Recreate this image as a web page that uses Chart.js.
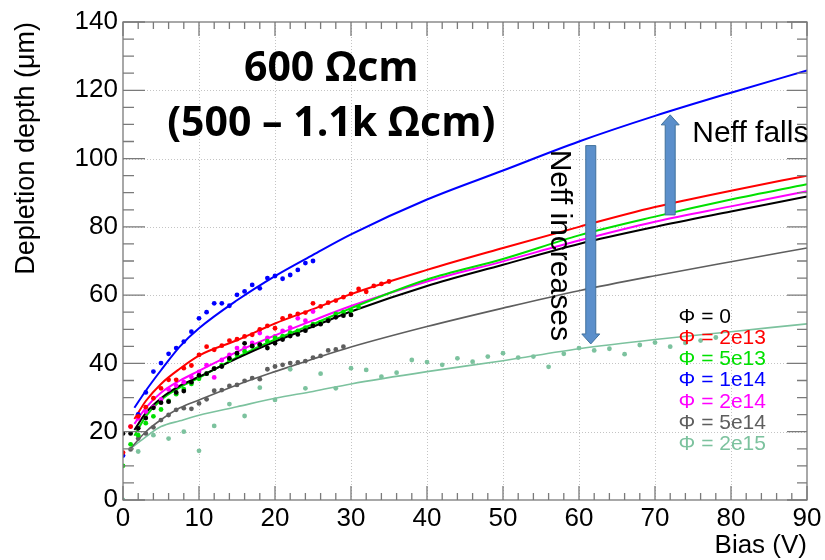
<!DOCTYPE html>
<html>
<head>
<meta charset="utf-8">
<script src="https://cdn.jsdelivr.net/npm/chart.js@4/dist/chart.umd.min.js"></script>
<style>
  html, body { margin: 0; padding: 0; background: #fff; }
  canvas { display: block; }
</style>
</head>
<body>
<canvas id="dCanvas" width="825" height="560"></canvas>
<script>
const FONT = "'Liberation Sans', Arial, sans-serif";

// fluence labels and colours, in legend order
const fluences = [ "0", "2e13", "5e13", "1e14", "2e14", "5e14", "2e15" ];
const colours = [ "#000000", "#ff0000", "#00e000", "#0000ff", "#ff00ff", "#5e5e5e", "#7cc29e" ];

// measured depletion depth (um) vs bias (V)
const phi0V = [ 0,1,2,3,4,5,6,7,8,9,10,11,12,13,14,15,16,17,18,19,20,21,22,23,24,25,26,27,28,29,30 ];
const phi0D = [ 19.5,19.5,21,24,27,28.5,28.8,31.5,31.9,34.5,36.5,37,38.5,39.1,41.5,43,45.9,45.1,45.5,44.5,45.9,47,48,48.5,49.6,51,51.5,52.5,53.5,54,54.2 ];

const phi2e13V = [ 0,1,2,3,4,5,6,7,8,9,10,11,12,13,14,15,16,17,18,19,20,21,22,23,24,25,26,27,28,29,30,31,32,33,34,35 ];
const phi2e13D = [ 13.9,21.5,24.5,27.2,29.8,32.7,35.2,35.2,38.6,39.4,42.5,44.9,44,45.2,46.7,47.1,47.9,48.4,50,51,50.3,53.2,53.9,54.5,54.9,57.6,56.7,57.8,58.4,59.4,60.4,61.8,61,62.7,63.3,64 ];

const phi5e13V = [ 0,1,2,3,4,5,6,7,8,9,10,11,12,13,14,15,16,17,18,19,20,21,22,23,24,25,26,27,28,29,30,31 ];
const phi5e13D = [ 10,16.3,19,22.5,24.5,26.5,29,31,32.5,34,35.5,37,38.5,39.5,41,42.5,43.5,45,45.5,46.5,47.5,48,49,49.5,50.5,51.5,52,53,54.5,55,55.5,56.5 ];

const phi1e14V = [ 0,2,3,4,5,6,7,8,9,10,11,12,13,14,15,16,17,18,19,20,21,22,23,24,25 ];
const phi1e14D = [ 13,25.1,31.5,37.6,40.1,42.8,44.5,46.4,49.3,53.2,55,57.6,57.6,56.9,60.1,61.1,63,62,65,65.6,64.8,65.9,67.4,69.4,70 ];

const phi2e14V = [ 1,2,3,4,5,6,7,8,9,10,11,12,13,14,15,16,17,18,19,20,21,22,23,24,25 ];
const phi2e14D = [ 21.5,23.9,25.9,27.3,29.5,32.4,33.5,34.5,36,37.5,39.5,35.9,41,42.5,44.5,44.5,46,48.9,47.5,47.9,49.5,50.5,53.2,52.5,55.2 ];

const phi5e14V = [ 1,2,3,4,5,6,7,8,9,10,11,12,13,14,15,16,17,18,19,20,21,22,23,24,25,26,27,28,29 ];
const phi5e14D = [ 14.8,18,19.5,21.3,23.4,24.9,26.4,26.9,26.7,28.3,29.5,32,32.2,33.4,33.7,34.9,35.7,35.4,38.3,39.1,39.6,40.1,40.3,40.7,41.7,42.2,43.8,44.1,44.9 ];

const phi2e15V = [ 0,2,4,6,8,10,12,14,16,18,20,22,24,26,28,30,32,34,36,38,40,42,44,46,48,50,52,54,56,58,60,62,64,66,68,70,72,74,76,78 ];
const phi2e15D = [ 0,14.2,19,18,20,14.4,21.7,28.1,24.6,32.9,29.3,38.3,32.7,37,32.7,38.6,38.1,36.1,37.3,41,40.4,39.6,41.5,40.5,42,43,41.7,42,39,42.8,44.5,43.8,44.3,42.7,45.4,46.1,44.9,46,46.7,47.6 ];

// fitted curves
const fitBias = [ 1.5,3,5,7.5,10,15,20,25,30,40,50,60,70,80,90 ];
const fitBiasLow = [ 1,3,5,7.5,10,15,20,25,30,40,50,60,70,80,90 ];
const fit0 = [ 20.5,25.5,29.8,33.5,36.1,41.5,46.4,50.8,55.2,62.7,68.9,75,80,84.5,88.9 ];
const fit2e13 = [ 23.7,29,34,38.5,42.3,46.8,51.7,55.9,60.3,67.4,73.8,80,85.8,90.6,95 ];
const fit5e13 = [ 18.8,24.5,29.3,33,35.8,41.8,47,51.5,56.2,64.6,70.6,77.5,83,88,92.5 ];
const fit1e14 = [ 27,32,38,45,50.3,58.5,65.6,71.8,77.8,88,96.5,105,112.5,119.3,125.8 ];
const fit2e14 = [ 22.3,27,31.4,35,37.8,43.4,48.2,52.6,56.8,64,69.9,76,81.5,86,90.4 ];
const fit5e14 = [ 15.1,20,23.5,27,29.3,33.7,37.6,41.3,44.8,50.8,56.2,61.3,65.7,69.8,73.8 ];
const fit2e15 = [ 15.1,18.5,21.5,23.2,24.8,27.3,29.8,31.8,34,37.6,40.8,44.3,47,49.3,51.6 ];

const measV = [ phi0V, phi2e13V, phi5e13V, phi1e14V, phi2e14V, phi5e14V, phi2e15V ];
const measD = [ phi0D, phi2e13D, phi5e13D, phi1e14D, phi2e14D, phi5e14D, phi2e15D ];
const fitX = [ fitBias, fitBias, fitBias, fitBias, fitBias, fitBiasLow, fitBiasLow ];
const fitY = [ fit0, fit2e13, fit5e13, fit1e14, fit2e14, fit5e14, fit2e15 ];

const pairs = ( xs, ys ) => xs.map( ( x, i ) => ( { x, y: ys[ i ] } ) );

const datasets = [];
for ( let i = 0; i < fluences.length; i++ ) {
  datasets.push( {
    label: "fit " + fluences[ i ],
    data: pairs( fitX[ i ], fitY[ i ] ),
    showLine: true,
    borderColor: colours[ i ],
    borderWidth: i >= 5 ? 1.6 : 2,
    pointRadius: 0,
    cubicInterpolationMode: "monotone",
    order: 2
  } );
  datasets.push( {
    label: "\u03a6 = " + fluences[ i ],
    data: pairs( measV[ i ], measD[ i ] ),
    showLine: false,
    backgroundColor: colours[ i ],
    borderWidth: 0,
    pointRadius: 2.4,
    order: 1
  } );
}

// dotted grid, ROOT style frame with inner ticks, arrows and labels
const decorations = {
  id: "decorations",
  beforeDatasetsDraw ( chart ) {
    const { ctx, chartArea: a, scales: { x, y } } = chart;
    ctx.save();
    ctx.strokeStyle = "#c4c4c4";
    ctx.lineWidth = 1;
    ctx.setLineDash( [ 1, 2 ] );
    for ( let v = 10; v < 90; v += 10 ) {
      const px = Math.round( x.getPixelForValue( v ) ) + 0.5;
      ctx.beginPath(); ctx.moveTo( px, a.top ); ctx.lineTo( px, a.bottom ); ctx.stroke();
    }
    for ( let v = 20; v < 140; v += 20 ) {
      const py = Math.round( y.getPixelForValue( v ) ) + 0.5;
      ctx.beginPath(); ctx.moveTo( a.left, py ); ctx.lineTo( a.right, py ); ctx.stroke();
    }
    ctx.restore();
  },
  afterDatasetsDraw ( chart ) {
    const { ctx, chartArea: a, scales: { x, y } } = chart;
    ctx.save();
    ctx.strokeStyle = "#7a7a7a";
    ctx.lineWidth = 1.3;
    ctx.beginPath();
    for ( let v = 0; v <= 90; v += 2 ) {
      const px = x.getPixelForValue( v );
      const len = v % 10 === 0 ? 14 : 7;
      ctx.moveTo( px, a.bottom ); ctx.lineTo( px, a.bottom - len );
      ctx.moveTo( px, a.top ); ctx.lineTo( px, a.top + len );
    }
    for ( let v = 0; v <= 140; v += 5 ) {
      const py = y.getPixelForValue( v );
      const major = v % 20 === 0;
      ctx.moveTo( a.left, py ); ctx.lineTo( a.left + ( major ? 22 : 11 ), py );
      ctx.moveTo( a.right, py ); ctx.lineTo( a.right - ( major ? 20 : 10 ), py );
    }
    ctx.stroke();
    ctx.strokeRect( a.left, a.top, a.right - a.left, a.bottom - a.top );

    // block arrows
    const arrow = ( xv, y0, y1 ) => {
      const cx = x.getPixelForValue( xv );
      const p0 = y.getPixelForValue( y0 ), p1 = y.getPixelForValue( y1 );
      const dir = p1 > p0 ? 1 : -1;
      const base = p1 - dir * 10;
      ctx.beginPath();
      ctx.moveTo( cx - 5, p0 ); ctx.lineTo( cx + 5, p0 );
      ctx.lineTo( cx + 5, base ); ctx.lineTo( cx + 9, base );
      ctx.lineTo( cx, p1 ); ctx.lineTo( cx - 9, base );
      ctx.lineTo( cx - 5, base ); ctx.closePath();
      ctx.fillStyle = "#5b8fcb";
      ctx.fill();
      ctx.strokeStyle = "#41719c";
      ctx.lineWidth = 1;
      ctx.stroke();
    };
    arrow( 61.55, 103.8, 45.7 );
    arrow( 72.0, 83.5, 112.8 );

    ctx.fillStyle = "#000";
    ctx.font = "30px " + FONT;
    ctx.textBaseline = "alphabetic";
    ctx.textAlign = "left";
    ctx.fillText( "Neff falls", x.getPixelForValue( 74.9 ), y.getPixelForValue( 105 ) );
    ctx.save();
    ctx.translate( 551, y.getPixelForValue( 102.6 ) );
    ctx.rotate( Math.PI / 2 );
    ctx.fillText( "Neff increases", 0, 0 );
    ctx.restore();

    ctx.font = "bold 41px 'Open Sans', sans-serif";
    ctx.textAlign = "center";
    ctx.fillText( "600 \u03a9cm", x.getPixelForValue( 27.4 ), y.getPixelForValue( 122.6 ) );
    ctx.fillText( "(500 \u2013 1.1k \u03a9cm)", x.getPixelForValue( 27.4 ), y.getPixelForValue( 106.5 ) );

    // legend: coloured text only
    ctx.font = "21px " + FONT;
    ctx.textAlign = "left";
    const lx = x.getPixelForValue( 73.1 );
    const ly = y.getPixelForValue( 51.9 );
    fluences.forEach( ( f, i ) => {
      ctx.fillStyle = colours[ i ];
      ctx.fillText( "\u03a6 = " + f, lx, ly + i * 21.2 );
    } );

    // axis titles
    ctx.fillStyle = "#000";
    ctx.font = "26px " + FONT;
    ctx.textAlign = "right";
    ctx.fillText( "Bias (V)", a.right, 553 );
    ctx.font = "27px " + FONT;
    ctx.save();
    ctx.translate( 34, a.top );
    ctx.rotate( -Math.PI / 2 );
    ctx.fillText( "Depletion depth (\u03bcm)", 0, 0 );
    ctx.restore();
    ctx.restore();
  }
};

const ctx = document.getElementById( "dCanvas" ).getContext( "2d" );
const tickFont = { family: FONT, size: 26 };

new Chart( ctx, {
  type: "scatter",
  data: { datasets },
  options: {
    responsive: false,
    animation: false,
    layout: { padding: { top: 22, right: 18, left: 0, bottom: 0 } },
    plugins: { legend: { display: false }, tooltip: { enabled: false } },
    scales: {
      x: {
        type: "linear",
        min: 0,
        max: 90,
        afterFit ( s ) { s.height = 60; },
        grid: { display: false, drawTicks: false },
        border: { display: false },
        ticks: { stepSize: 10, font: tickFont, color: "#000", padding: 3, maxRotation: 0 }
      },
      y: {
        min: 0,
        max: 140,
        afterFit ( s ) { s.width = 123; },
        grid: { display: false, drawTicks: false },
        border: { display: false },
        ticks: { stepSize: 20, font: tickFont, color: "#000", padding: 5 }
      }
    }
  },
  plugins: [ decorations ]
} );
</script>
</body>
</html>
